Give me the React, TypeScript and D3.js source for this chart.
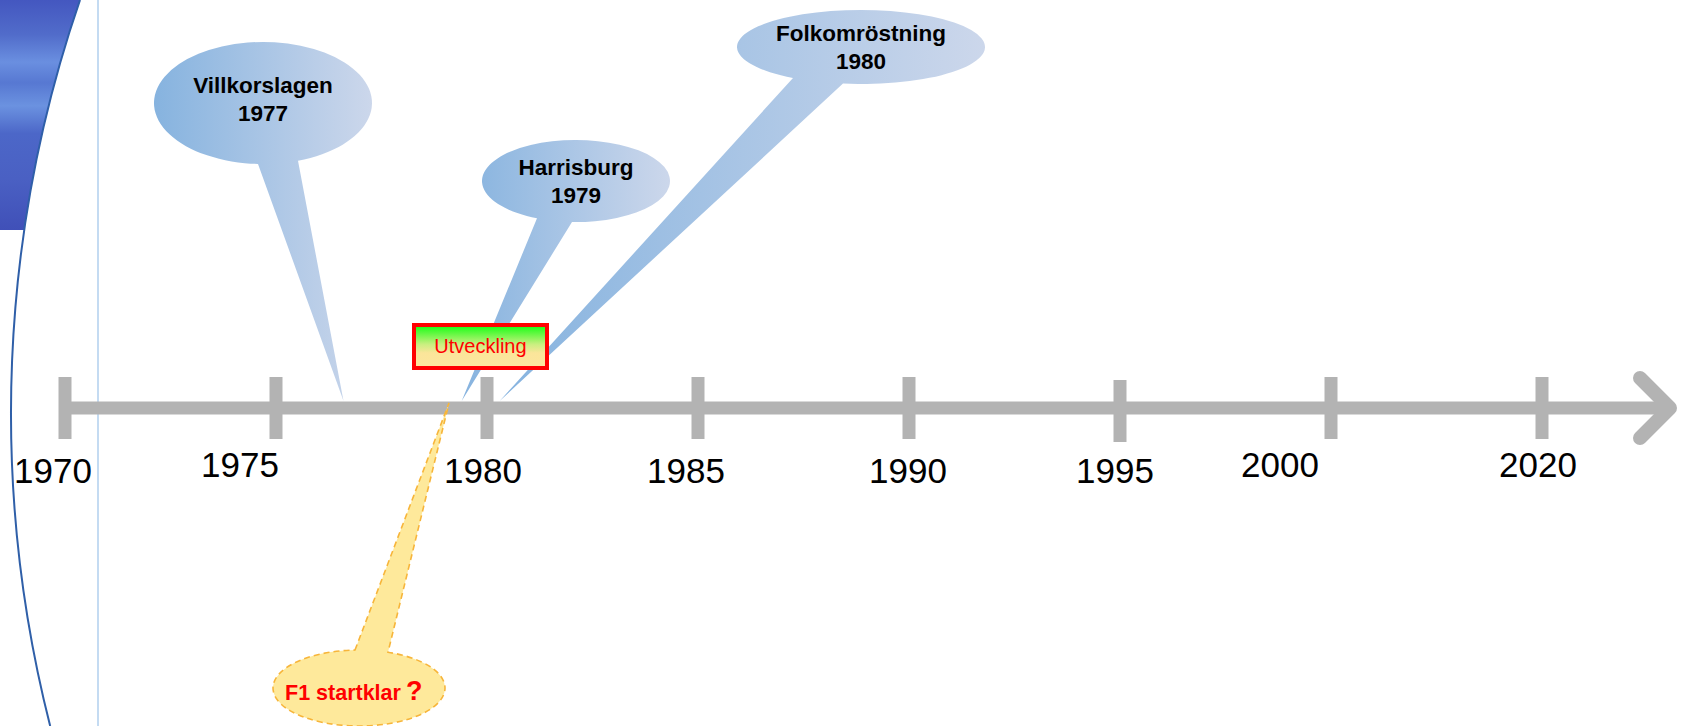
import React from 'react';
import * as d3 from 'd3';

// timeline ticks
const tickLabels = ['1970', '1975', '1980', '1985', '1990', '1995', '2000', '2020'];

// events pointing at the line (year the pointer lands on)
const eventNames = ['Villkorslagen', 'Harrisburg', 'Folkomröstning'];
const eventYears = ['1977', '1979', '1980'];
const eventPointsAt = [1976.6, 1979.4, 1980.3];

const f1Label = 'F1 startklar';
const f1Mark = '?';
const f1PointsAt = 1979.1;

const boxLabel = 'Utveckling';

// layout tweaks (not data)
const labelNudgeX = [-12, -36, -4, -12, -1, -5, -51, -4];
const labelNudgeY = [0, -6, 0, 0, 0, 0, -6, -6];
const tickNudgeY = [0, 0, 0, 0, 0, 3, 0, 0];

const calloutLayout = [
  { cx: 263, cy: 103, rx: 109, ry: 61, base: [258, 298], textDy: -10 },
  { cx: 576, cy: 181, rx: 94, ry: 41, base: [537, 572], textDy: -6 },
  { cx: 861, cy: 47, rx: 124, ry: 37, base: [793, 843], textDy: -6 },
];
const f1Layout = { cx: 359, cy: 688, rx: 86, ry: 38, base: [355, 388] };

const W = 1682;
const H = 726;
const axisY = 408;

type Layout = { cx: number; cy: number; rx: number; ry: number; base: number[] };

function calloutPath(l: Layout, tipX: number, tipY: number, side: 'bottom' | 'top') {
  const s = side === 'bottom' ? 1 : -1;
  const yOn = (x: number) => l.cy + s * l.ry * Math.sqrt(Math.max(0, 1 - ((x - l.cx) / l.rx) ** 2));
  const [x1, x2] = l.base;
  const y1 = yOn(x1);
  const y2 = yOn(x2);
  const sweep = side === 'bottom' ? 0 : 1;
  return `M${x1},${y1}L${tipX},${tipY}L${x2},${y2}A${l.rx},${l.ry} 0 1 ${sweep} ${x1},${y1}Z`;
}

const App: React.FC = () => {
  const x = d3.scalePoint<string>().domain(tickLabels).range([65, 1542]);
  const yearX = d3.scaleLinear().domain([1970, 2000]).range([x('1970')!, x('2000')!]);

  // big background circle, left edge
  const R = 1270, ccx = 1281, ccy = 413;
  const arcX = (y: number) => ccx - Math.sqrt(R * R - (y - ccy) ** 2);
  const arcD = `M${arcX(0)},0A${R},${R} 0 0 0 ${arcX(H)},${H}`;
  const bandD = `M0,0L${arcX(0)},0A${R},${R} 0 0 0 ${arcX(230)},230L0,230Z`;

  const font = '"Liberation Sans", Arial, sans-serif';
  const arrowEnd = 1670;

  return (
    <div style={{ position: 'fixed', left: 0, top: 0 }}>
      <svg width={W} height={H} style={{ display: 'block', background: '#fff' }}>
        <defs>
          <linearGradient id="band" x1="0" y1="0" x2="0" y2="1">
            <stop offset="0" stopColor="#4457c0" />
            <stop offset="0.15" stopColor="#516cca" />
            <stop offset="0.27" stopColor="#6a8fe0" />
            <stop offset="0.36" stopColor="#5778d2" />
            <stop offset="0.46" stopColor="#6b92e0" />
            <stop offset="0.58" stopColor="#4c67c8" />
            <stop offset="0.78" stopColor="#4a60c3" />
            <stop offset="1" stopColor="#4050b8" />
          </linearGradient>
          {calloutLayout.map((_, i) => (
            <linearGradient key={i} id={`cg${i}`} x1="0" y1="0" x2="1" y2="0">
              <stop offset="0" stopColor="#86b3df" />
              <stop offset="1" stopColor="#ccd7eb" />
            </linearGradient>
          ))}
          <linearGradient id="boxg" x1="0" y1="0" x2="0" y2="1">
            <stop offset="0" stopColor="#10ff10" />
            <stop offset="0.45" stopColor="#c9ef80" />
            <stop offset="0.65" stopColor="#fbe59a" />
            <stop offset="1" stopColor="#fde69e" />
          </linearGradient>
        </defs>

        {/* background decoration */}
        <path d={bandD} fill="url(#band)" />
        <path d={arcD} fill="none" stroke="#2f5fa8" strokeWidth={2} />
        <line x1={98} x2={98} y1={0} y2={H} stroke="#b0cfee" strokeWidth={1.5} />

        {/* axis */}
        <line x1={x('1970')} x2={arrowEnd} y1={axisY} y2={axisY} stroke="#b3b3b3" strokeWidth={13} />
        <polyline
          points={`${arrowEnd - 30},${axisY - 30} ${arrowEnd},${axisY} ${arrowEnd - 30},${axisY + 30}`}
          fill="none"
          stroke="#b3b3b3"
          strokeWidth={14}
          strokeLinecap="round"
          strokeLinejoin="round"
        />
        {tickLabels.map((t, i) => (
          <g key={t}>
            <rect x={x(t)! - 6.5} y={axisY - 31 + tickNudgeY[i]} width={13} height={62} fill="#b3b3b3" />
            <text
              x={x(t)! + labelNudgeX[i]}
              y={483 + labelNudgeY[i]}
              textAnchor="middle"
              fontFamily={font}
              fontSize={35}
              fill="#000"
            >
              {t}
            </text>
          </g>
        ))}

        {/* blue callouts */}
        {eventNames.map((name, i) => {
          const l = calloutLayout[i];
          return (
            <g key={name}>
              <path d={calloutPath(l, yearX(eventPointsAt[i]), axisY - 7, 'bottom')} fill={`url(#cg${i})`} />
              <text x={l.cx} y={l.cy + l.textDy} textAnchor="middle" fontFamily={font} fontWeight="bold" fontSize={22.5} fill="#000">
                {name}
              </text>
              <text x={l.cx} y={l.cy + l.textDy + 28} textAnchor="middle" fontFamily={font} fontWeight="bold" fontSize={22.5} fill="#000">
                {eventYears[i]}
              </text>
            </g>
          );
        })}

        {/* F1 callout */}
        <path
          d={calloutPath(f1Layout, yearX(f1PointsAt), axisY - 5, 'top')}
          fill="#fee99b"
          stroke="#f7b53a"
          strokeWidth={1.6}
          strokeDasharray="6 4"
        />
        <text x={285} y={700} fontFamily={font} fontWeight="bold" fill="#ff0000">
          <tspan fontSize={21.5}>{f1Label}</tspan>
          <tspan fontSize={27} dx={5}>{f1Mark}</tspan>
        </text>

        {/* development box */}
        <rect x={414} y={325} width={133} height={43} fill="url(#boxg)" stroke="#ff0000" strokeWidth={4} />
        <text x={480.5} y={353} textAnchor="middle" fontFamily={font} fontSize={20} fill="#ff0000">
          {boxLabel}
        </text>
      </svg>
    </div>
  );
};

export default App;
